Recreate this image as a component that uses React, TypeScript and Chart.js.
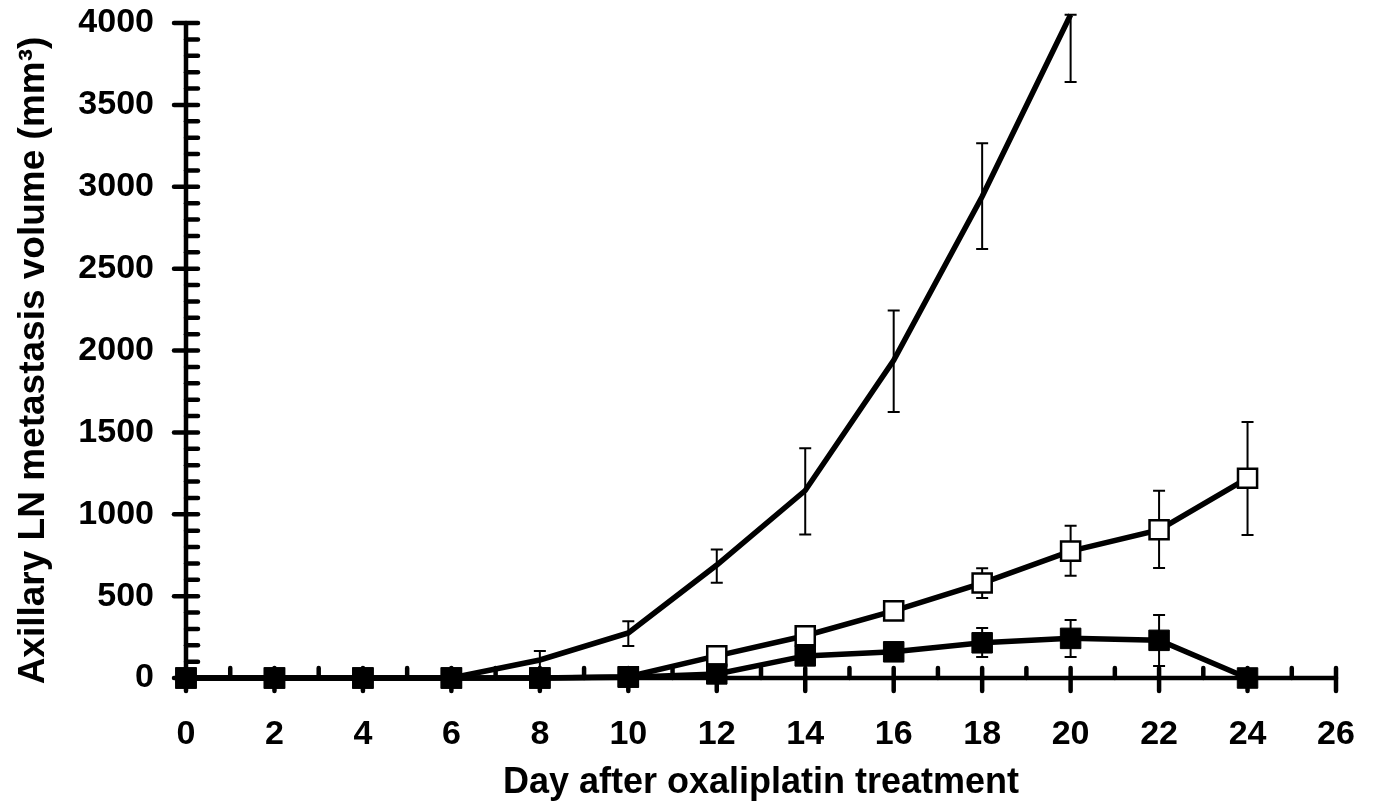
import React, { useEffect, useRef } from "react";
import { Chart, registerables } from "chart.js";

Chart.register(...registerables);

// ---- Data ----
const days = [0, 2, 4, 6, 8, 10, 12, 14, 16, 18, 20, 22, 24];

// Control (line only, no markers) – measured up to day 20
const controlDays = [0, 2, 4, 6, 8, 10, 12, 14, 16, 18, 20];
const controlValues = [0, 0, 0, 0, 110, 275, 690, 1145, 1940, 2940, 4050];
const controlErrPlus = [0, 0, 0, 0, 55, 72, 95, 258, 305, 325, 0];
const controlErrMinus = [0, 0, 0, 0, 55, 80, 108, 268, 315, 320, 410];

// Open squares
const openValues = [0, 0, 0, 0, 0, 8, 135, 258, 410, 580, 775, 905, 1220];
const openErrPlus = [0, 0, 0, 0, 0, 0, 0, 0, 0, 90, 155, 238, 343];
const openErrMinus = [0, 0, 0, 0, 0, 0, 0, 0, 0, 92, 150, 234, 347];

// Filled squares
const filledValues = [0, 0, 0, 0, 0, 5, 25, 135, 160, 215, 242, 230, 0];
const filledErrPlus = [0, 0, 0, 0, 0, 0, 0, 0, 0, 90, 112, 155, 0];
const filledErrMinus = [0, 0, 0, 0, 0, 0, 0, 0, 0, 87, 114, 157, 0];

const xMin = 0;
const xMax = 26;
const xStep = 2;
const yMin = 0;
const yMax = 4000;
const yStep = 500;
const yMinorStep = 100;

const xTitle = "Day after oxaliplatin treatment";
const yTitle = "Axillary LN metastasis volume (mm\u00B3)";

const FONT = "'Liberation Sans', Arial, Helvetica, sans-serif";

const axesPlugin = {
  id: "customAxes",
  beforeDatasetsDraw(chart: any) {
    const { ctx } = chart;
    const xs = chart.scales.x;
    const ys = chart.scales.y;
    const x0 = xs.getPixelForValue(xMin);
    const x1 = xs.getPixelForValue(xMax);
    const y0 = ys.getPixelForValue(yMin);
    const y1 = ys.getPixelForValue(yMax);
    ctx.save();
    ctx.strokeStyle = "#000";
    ctx.lineCap = "round";
    ctx.lineWidth = 4.5;
    const line = (ax: number, ay: number, bx: number, by: number) => {
      ctx.beginPath();
      ctx.moveTo(ax, ay);
      ctx.lineTo(bx, by);
      ctx.stroke();
    };
    // y axis
    line(x0, y0, x0, y1);
    for (let v = yMin; v <= yMax + 1e-6; v += yMinorStep) {
      const py = ys.getPixelForValue(v);
      if (Math.abs(v % yStep) < 1e-6) line(x0 - 12, py, x0 + 12, py);
      else line(x0, py, x0 + 12, py);
    }
    // x axis
    line(x0, y0, x1, y0);
    for (let d = xMin; d <= xMax + 1e-6; d += 1) {
      const px = xs.getPixelForValue(d);
      if (Math.abs(d % xStep) < 1e-6) line(px, y0 - 10, px, y0 + 13);
      else line(px, y0 - 10, px, y0);
    }
    ctx.restore();
  },
};

const yTitlePlugin = {
  id: "yTitle",
  afterDraw(chart: any) {
    const { ctx } = chart;
    const ys = chart.scales.y;
    const cy = (ys.getPixelForValue(yMin) + ys.getPixelForValue(yMax)) / 2 + 10;
    ctx.save();
    ctx.translate(34, cy);
    ctx.rotate(-Math.PI / 2);
    ctx.font = `bold 37px ${FONT}`;
    ctx.fillStyle = "#000";
    ctx.textAlign = "center";
    ctx.textBaseline = "middle";
    ctx.fillText(yTitle, 0, 0);
    ctx.restore();
  },
};

const errorBarPlugin = {
  id: "errorBars",
  beforeDatasetsDraw(chart: any) {
    const { ctx } = chart;
    const ys = chart.scales.y;
    ctx.save();
    ctx.strokeStyle = "#000";
    ctx.lineWidth = 2;
    ctx.lineCap = "butt";
    chart.data.datasets.forEach((ds: any, i: number) => {
      const meta = chart.getDatasetMeta(i);
      const plus = ds.errPlus as number[];
      const minus = ds.errMinus as number[];
      if (!plus) return;
      meta.data.forEach((pt: any, j: number) => {
        const v = ds.data[j].y;
        if ((plus[j] || 0) === 0 && (minus[j] || 0) === 0) return;
        const x = pt.x;
        const yTop = ys.getPixelForValue(v + (plus[j] || 0));
        const yBot = ys.getPixelForValue(v - (minus[j] || 0));
        ctx.beginPath();
        ctx.moveTo(x, yTop);
        ctx.lineTo(x, yBot);
        ctx.moveTo(x - 6, yTop);
        ctx.lineTo(x + 6, yTop);
        ctx.moveTo(x - 6, yBot);
        ctx.lineTo(x + 6, yBot);
        ctx.stroke();
      });
    });
    ctx.restore();
  },
};

export default function App() {
  const canvasRef = useRef<HTMLCanvasElement | null>(null);

  useEffect(() => {
    if (!canvasRef.current) return;
    const tickFont = { family: FONT, size: 34, weight: "bold" as const };
    const chart = new Chart(canvasRef.current, {
      type: "line",
      data: {
        datasets: [
          {
            label: "Filled squares",
            data: days.map((d, i) => ({ x: d, y: filledValues[i] })),
            borderColor: "#000",
            backgroundColor: "#000",
            borderWidth: 5.5,
            pointStyle: "rect",
            pointRadius: 14.5,
            pointBorderWidth: 1,
            pointBorderColor: "#000",
            pointBackgroundColor: "#000",
            tension: 0,
            clip: false,
            errPlus: filledErrPlus,
            errMinus: filledErrMinus,
          } as any,
          {
            label: "Open squares",
            data: days.map((d, i) => ({ x: d, y: openValues[i] })),
            borderColor: "#000",
            backgroundColor: "#fff",
            borderWidth: 5.5,
            pointStyle: "rect",
            pointRadius: 13.5,
            pointBorderWidth: 2.5,
            pointBorderColor: "#000",
            pointBackgroundColor: "#fff",
            tension: 0,
            clip: false,
            errPlus: openErrPlus,
            errMinus: openErrMinus,
          } as any,
          {
            label: "Control",
            data: controlDays.map((d, i) => ({ x: d, y: controlValues[i] })),
            borderColor: "#000",
            borderWidth: 5.5,
            pointRadius: 0,
            tension: 0,
            clip: false,
            errPlus: controlErrPlus,
            errMinus: controlErrMinus,
          } as any,
        ],
      },
      options: {
        animation: false,
        responsive: false,
        devicePixelRatio: 1,
        layout: { padding: { top: 23, right: 37, left: 0, bottom: 0 } },
        plugins: {
          legend: { display: false },
          tooltip: { enabled: false },
        },
        scales: {
          x: {
            type: "linear",
            min: xMin,
            max: xMax,
            grid: { display: false, drawTicks: false },
            border: { display: false },
            ticks: {
              stepSize: xStep,
              font: tickFont,
              color: "#000",
              padding: 36,
              maxRotation: 0,
              autoSkip: false,
              callback: (v: any) => String(v),
            },
            title: {
              display: true,
              text: xTitle,
              color: "#000",
              font: { family: FONT, size: 36, weight: "bold" },
              padding: { top: 0, bottom: 7 },
            },
            afterFit: (s: any) => {
              s.height = 134;
              s.paddingLeft = 0;
              s.paddingRight = 0;
            },
          },
          y: {
            type: "linear",
            min: yMin,
            max: yMax,
            grid: { display: false, drawTicks: false },
            border: { display: false },
            ticks: {
              stepSize: yStep,
              font: tickFont,
              color: "#000",
              padding: 32,
              callback: (v: any) => String(v),
            },
            title: { display: false, text: yTitle },
            afterFit: (s: any) => {
              s.width = 186;
              s.paddingTop = 0;
              s.paddingBottom = 0;
            },
          },
        },
      },
      plugins: [axesPlugin, errorBarPlugin, yTitlePlugin],
    });
    return () => chart.destroy();
  }, []);

  return (
    <div
      style={{
        position: "fixed",
        left: 0,
        top: 0,
        width: 1373,
        height: 812,
        background: "#fff",
      }}
    >
      <canvas ref={canvasRef} width={1373} height={812} />
    </div>
  );
}
